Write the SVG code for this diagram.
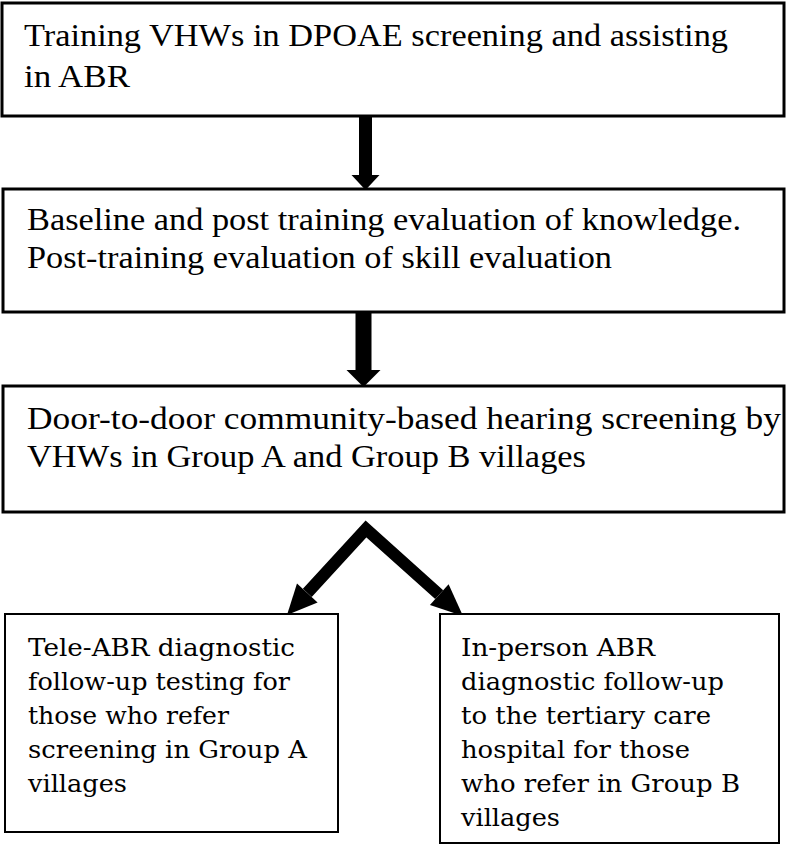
<svg xmlns="http://www.w3.org/2000/svg" width="787" height="845" viewBox="0 0 787 845">
<style>
.box{fill:#fff;stroke:#000;stroke-width:3}
.sbox{fill:#fff;stroke:#000;stroke-width:2}
.t{font-family:"Liberation Serif","Times New Roman",serif;font-size:31px;fill:#000}
.s{font-family:"DejaVu Serif","Liberation Serif",serif;font-size:25px;fill:#000}
.c{fill:none;stroke:#000;stroke-width:12;stroke-linejoin:miter}
.h{fill:#000}
</style>
<g id="connectors">
<rect class="h" x="359" y="116" width="13" height="60"/>
<polygon class="h" points="351.5,175 379.5,175 365.5,190"/>
<rect class="h" x="355.5" y="311" width="16" height="60"/>
<polygon class="h" points="346.5,370 380.5,370 363.5,387"/>
<path class="c" d="M307.3,592.9 L366,529 L439.2,594.6"/>
<polygon class="h" points="287,615 317.6,602.4 297,583.4"/>
<polygon class="h" points="463,616 429.9,605 448.6,584.2"/>
</g>
<g id="n1">
<rect class="box" x="2" y="3" width="782" height="113"/>
<text class="t" x="24" y="46" textLength="704" lengthAdjust="spacingAndGlyphs">Training VHWs in DPOAE screening and assisting</text>
<text class="t" x="24" y="87" textLength="106" lengthAdjust="spacingAndGlyphs">in ABR</text>
</g>
<g id="n2">
<rect class="box" x="3" y="189" width="781" height="123"/>
<text class="t" x="27" y="230" textLength="714" lengthAdjust="spacingAndGlyphs">Baseline and post training evaluation of knowledge.</text>
<text class="t" x="27" y="268" textLength="585" lengthAdjust="spacingAndGlyphs">Post-training evaluation of skill evaluation</text>
</g>
<g id="n3">
<rect class="box" x="3" y="386" width="781" height="126"/>
<text class="t" x="27" y="429" textLength="754" lengthAdjust="spacingAndGlyphs">Door-to-door community-based hearing screening by</text>
<text class="t" x="27" y="467" textLength="559" lengthAdjust="spacingAndGlyphs">VHWs in Group A and Group B villages</text>
</g>
<g id="n4">
<rect class="sbox" x="5" y="614" width="333" height="218"/>
<text class="s" x="28" y="656" textLength="267" lengthAdjust="spacingAndGlyphs">Tele-ABR diagnostic</text>
<text class="s" x="28" y="690" textLength="262" lengthAdjust="spacingAndGlyphs">follow-up testing for</text>
<text class="s" x="28" y="724" textLength="201" lengthAdjust="spacingAndGlyphs">those who refer</text>
<text class="s" x="28" y="758" textLength="279" lengthAdjust="spacingAndGlyphs">screening in Group A</text>
<text class="s" x="28" y="792" textLength="99" lengthAdjust="spacingAndGlyphs">villages</text>
</g>
<g id="n5">
<rect class="sbox" x="440" y="614" width="339" height="229"/>
<text class="s" x="461" y="656" textLength="194" lengthAdjust="spacingAndGlyphs">In-person ABR</text>
<text class="s" x="461" y="690" textLength="263" lengthAdjust="spacingAndGlyphs">diagnostic follow-up</text>
<text class="s" x="461" y="724" textLength="250" lengthAdjust="spacingAndGlyphs">to the tertiary care</text>
<text class="s" x="461" y="758" textLength="229" lengthAdjust="spacingAndGlyphs">hospital for those</text>
<text class="s" x="461" y="792" textLength="279" lengthAdjust="spacingAndGlyphs">who refer in Group B</text>
<text class="s" x="461" y="826" textLength="99" lengthAdjust="spacingAndGlyphs">villages</text>
</g>
</svg>
